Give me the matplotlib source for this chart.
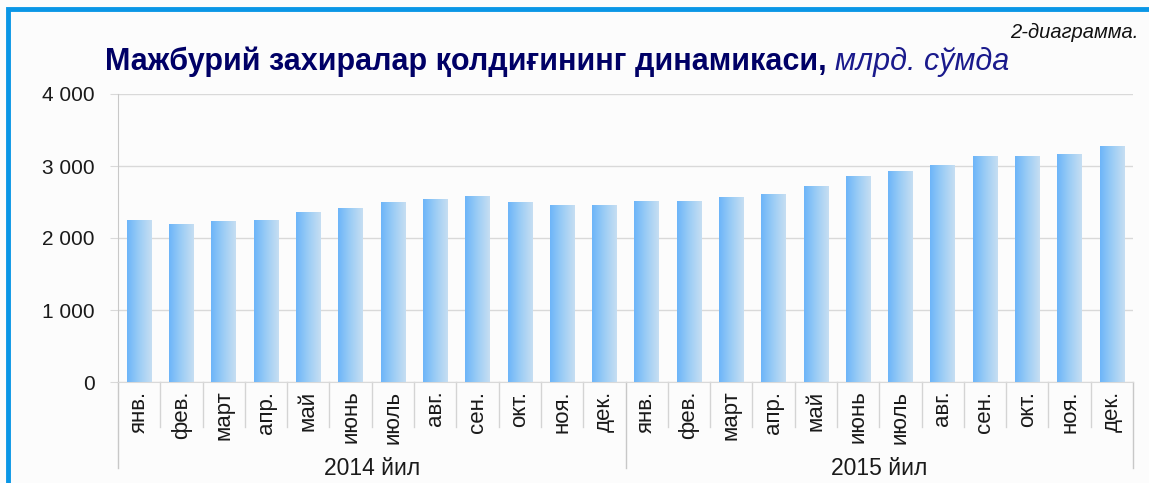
import numpy as np
import matplotlib.pyplot as plt
import matplotlib.transforms as mtransforms
from matplotlib.colors import LinearSegmentedColormap
from matplotlib.patches import Rectangle

plt.rcParams['font.family'] = ['Liberation Sans', 'DejaVu Sans']

# Data
months = ['янв.', 'фев.', 'март', 'апр.', 'май', 'июнь', 'июль', 'авг.',
          'сен.', 'окт.', 'ноя.', 'дек.']
years = ['2014 йил', '2015 йил']
values_2014 = [2250, 2200, 2232, 2245, 2360, 2417, 2495, 2546, 2583, 2495, 2453, 2465]
values_2015 = [2514, 2509, 2574, 2616, 2722, 2861, 2935, 3014, 3134, 3134, 3162, 3278]
yticks = [0, 1000, 2000, 3000, 4000]
ytick_labels = ['0', '1 000', '2 000', '3 000', '4 000']

values = values_2014 + values_2015
labels = months * 2
x = np.arange(len(values))

fig = plt.figure(figsize=(11.49, 4.83), dpi=100)
fig.patch.set_facecolor('#fcfcfc')

# blue frame (top and left)
fig.add_artist(Rectangle((8 / 1149, -0.1), 1.2, (483 - 9.5) / 483 + 0.1,
                         transform=fig.transFigure, fill=False,
                         edgecolor='#0a96e6', linewidth=3.5))

ax = fig.add_axes([118 / 1149, 101 / 483, 1015 / 1149, 288 / 483])
ax.set_facecolor('none')

# bars with horizontal gradient
cmap = LinearSegmentedColormap.from_list('bar', ['#6db5f9', '#9ccdf5', '#c6def2'])
bars = ax.bar(x, values, width=0.58, color='none', edgecolor='none', zorder=3)
grad = np.linspace(0, 1, 64).reshape(1, -1)
for b in bars:
    im = ax.imshow(grad, cmap=cmap, aspect='auto', zorder=3,
                   extent=[b.get_x(), b.get_x() + b.get_width(), 0, b.get_height()])
    im.set_clip_path(b)

ax.set_xlim(-0.5, len(values) - 0.5)
ax.set_ylim(0, 4000)
ax.set_yticks(yticks)
ax.set_yticklabels(ytick_labels, fontsize=15, color='#1a1a1a')
ax.grid(axis='y', color='#d9d9d9', linewidth=1, zorder=0)
ax.tick_params(axis='y', length=6, color='#d9d9d9', pad=11)
ax.tick_params(axis='x', bottom=False, labelbottom=False)
for s in ['top', 'right']:
    ax.spines[s].set_visible(False)
ax.spines['left'].set_color('#c8c8c8')
ax.spines['bottom'].set_color('#d9d9d9')

# category axis: separators, month labels, year labels
trans = mtransforms.blended_transform_factory(ax.transData, ax.transAxes)
for i in range(len(values) + 1):
    low = -0.299 if i % 12 == 0 else -0.156
    ax.plot([i - 0.5, i - 0.5], [0, low], transform=trans,
            color='#c8c8c8' if i % 12 == 0 else '#d4d4d4',
            linewidth=1, clip_on=False)
for i, lab in enumerate(labels):
    ax.text(x[i], -0.03, lab, transform=trans, rotation=90, ha='center',
            va='top', fontsize=16, color='#1a1a1a')
for j, yr in enumerate(years):
    ax.text(j * 12 + 5.5, -0.323, yr, transform=trans, ha='center', va='baseline',
            fontsize=16.5, color='#1a1a1a')

# titles
fig.text(1139 / 1149, (483 - 38) / 483, '2-диаграмма.', ha='right', va='baseline',
         fontsize=14.5, style='italic', color='#111111')
t1 = fig.text(105 / 1149, (483 - 70) / 483, 'Мажбурий захиралар қолдиғининг динамикаси,',
              ha='left', va='baseline', fontsize=22, fontweight='bold', color='#000066')
fig.canvas.draw()
bb = t1.get_window_extent()
fig.text((bb.x1 + 8) / 1149, (483 - 70) / 483, 'млрд. сўмда', ha='left', va='baseline',
         fontsize=22, style='italic', color='#1a1a8c')

fig.savefig('out.png', dpi=100, facecolor=fig.get_facecolor())
